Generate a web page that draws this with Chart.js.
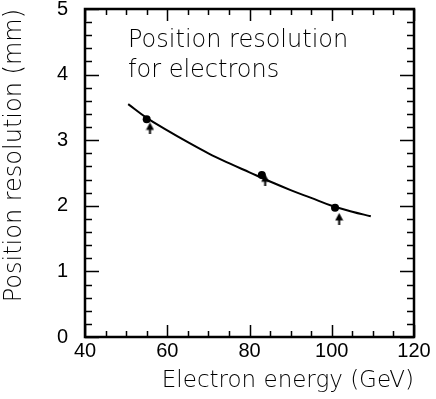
<!DOCTYPE html>
<html>
<head>
<meta charset="utf-8">
<script src="https://cdn.jsdelivr.net/npm/chart.js@4.4.1/dist/chart.umd.min.js"></script>
<style>
  body { margin: 0; background: #fff; }
  #wrap { width: 436px; height: 399px; }
</style>
</head>
<body>
<div id="wrap"><canvas id="chart" width="436" height="399"></canvas></div>
<script>
// measured points (filled circles)
const energy = [55, 83, 100.8];
const resolution = [3.32, 2.47, 1.97];
// arrow markers
const arrowEnergy = [55.8, 83.8, 101.8];
const arrowRes = [3.18, 2.39, 1.80];
// fitted curve
const fitEnergy = [50.5, 55, 60, 65, 70, 75, 80, 85, 90, 95, 100, 105, 109.5];
const fitRes = [3.55, 3.34, 3.15, 2.97, 2.80, 2.65, 2.51, 2.37, 2.24, 2.12, 2.00, 1.91, 1.84];
// tick labels
const xTicks = [40, 60, 80, 100, 120];
const yTicks = [0, 1, 2, 3, 4, 5];

const FONT = 'DejaVu Sans';
const NUM_FONT = 'Liberation Sans';

function makeArrow() {
    const c = document.createElement('canvas');
    c.width = 9;
    c.height = 12;
    const g = c.getContext('2d');
    g.fillStyle = '#000';
    g.beginPath();
    g.moveTo(4.5, 0);
    g.lineTo(8.5, 7.5);
    g.lineTo(0.5, 7.5);
    g.closePath();
    g.fill();
    g.fillRect(3.5, 7, 2, 5);
    return c;
}

const frameTicks = {
    id: 'frameTicks',
    afterDraw(chart) {
        const { ctx, chartArea: a, scales: { x, y } } = chart;
        ctx.save();
        ctx.strokeStyle = '#000';
        ctx.lineWidth = 1.5;
        ctx.beginPath();
        for (let v = 40; v <= 120; v += 5) {
            const px = Math.round(x.getPixelForValue(v)) + 0.5;
            const len = v % 20 === 0 ? 12 : 6;
            ctx.moveTo(px, a.bottom);
            ctx.lineTo(px, a.bottom - len);
            ctx.moveTo(px, a.top);
            ctx.lineTo(px, a.top + len);
        }
        for (let i = 0; i <= 25; i++) {
            const py = Math.round(y.getPixelForValue(i / 5)) + 0.5;
            const len = i % 5 === 0 ? 14 : 7;
            ctx.moveTo(a.left, py);
            ctx.lineTo(a.left + len, py);
            ctx.moveTo(a.right, py);
            ctx.lineTo(a.right - len, py);
        }
        ctx.stroke();
        ctx.lineWidth = 2.5;
        ctx.strokeRect(a.left, a.top, a.right - a.left, a.bottom - a.top);

        ctx.fillStyle = '#000';
        ctx.font = '300 24px "' + FONT + '"';
        ctx.textAlign = 'left';
        ctx.textBaseline = 'alphabetic';
        ctx.fillText('Position resolution', 128, 47);
        ctx.fillText('for electrons', 128, 77);
        ctx.restore();
    }
};

new Chart(document.getElementById('chart'), {
    type: 'scatter',
    data: {
        datasets: [
            {
                type: 'line',
                data: fitEnergy.map((e, i) => ({ x: e, y: fitRes[i] })),
                borderColor: '#000',
                borderWidth: 2,
                pointRadius: 0,
                tension: 0.4,
                fill: false
            },
            {
                data: energy.map((e, i) => ({ x: e, y: resolution[i] })),
                backgroundColor: '#000',
                borderColor: '#000',
                pointRadius: 4,
                borderWidth: 0
            },
            {
                data: arrowEnergy.map((e, i) => ({ x: e, y: arrowRes[i] })),
                pointStyle: makeArrow(),
                pointRadius: 6
            }
        ]
    },
    options: {
        responsive: false,
        animation: false,
        layout: { padding: { top: 9, right: 22, left: 0, bottom: 0 } },
        plugins: { legend: { display: false }, tooltip: { enabled: false } },
        scales: {
            x: {
                type: 'linear',
                min: 40,
                max: 120,
                grid: { display: false, drawTicks: false },
                border: { display: false },
                afterBuildTicks: scale => { scale.ticks = xTicks.map(v => ({ value: v })); },
                afterFit: scale => {
                    scale.height = 62;
                    scale.paddingLeft = 0;
                    scale.paddingRight = 0;
                },
                ticks: { color: '#000', padding: 2, font: { family: NUM_FONT, size: 20 } },
                title: {
                    display: true,
                    text: 'Electron energy (GeV)',
                    align: 'end',
                    color: '#000',
                    font: { family: FONT, size: 23, weight: 300 },
                    padding: { top: 0, bottom: 4 }
                }
            },
            y: {
                min: 0,
                max: 5,
                grid: { display: false, drawTicks: false },
                border: { display: false },
                afterBuildTicks: scale => { scale.ticks = yTicks.map(v => ({ value: v })); },
                afterFit: scale => {
                    scale.width = 85;
                    scale.paddingTop = 0;
                    scale.paddingBottom = 0;
                },
                ticks: { color: '#000', padding: 17, font: { family: NUM_FONT, size: 20 } },
                title: {
                    display: true,
                    text: 'Position resolution (mm)',
                    align: 'end',
                    color: '#000',
                    font: { family: FONT, size: 24, weight: 300 },
                    padding: { top: 0, bottom: 0 }
                }
            }
        }
    },
    plugins: [frameTicks]
});
</script>
</body>
</html>
